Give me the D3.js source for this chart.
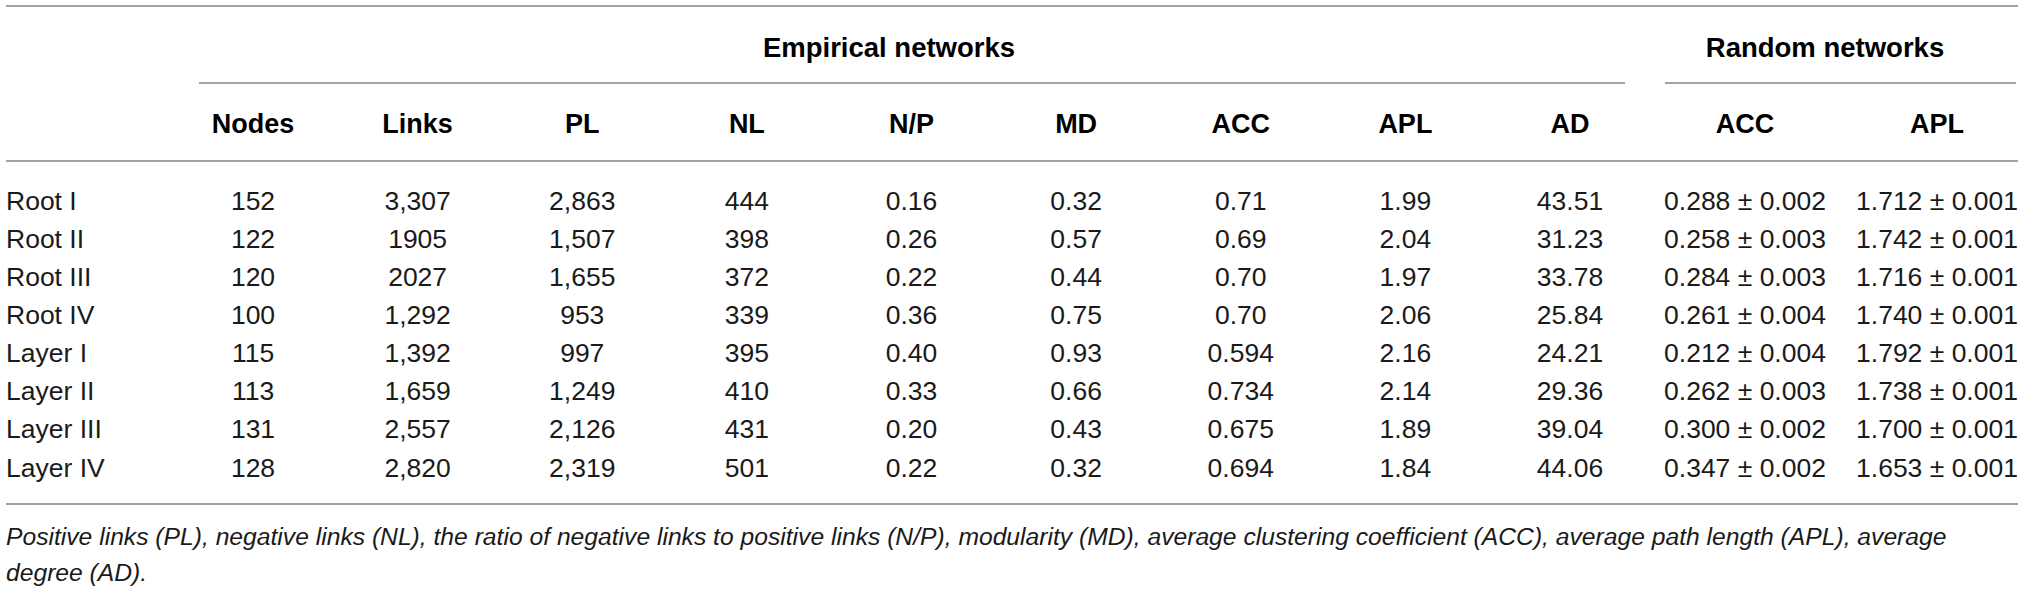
<!DOCTYPE html>
<html>
<head>
<meta charset="utf-8">
<script src="https://cdn.jsdelivr.net/npm/d3@7"></script>
<style>
  html, body { margin: 0; padding: 0; background: #fff; }
  svg { display: block; }
</style>
</head>
<body>
<script>
const width = 2032;
const height = 591;

// table content, as printed
const rowLabels = ["Root I", "Root II", "Root III", "Root IV", "Layer I", "Layer II", "Layer III", "Layer IV"];
const empiricalHeaders = ["Nodes", "Links", "PL", "NL", "N/P", "MD", "ACC", "APL", "AD"];
const randomHeaders = ["ACC", "APL"];

const nodes = ["152", "122", "120", "100", "115", "113", "131", "128"];
const links = ["3,307", "1905", "2027", "1,292", "1,392", "1,659", "2,557", "2,820"];
const pl = ["2,863", "1,507", "1,655", "953", "997", "1,249", "2,126", "2,319"];
const nl = ["444", "398", "372", "339", "395", "410", "431", "501"];
const np = ["0.16", "0.26", "0.22", "0.36", "0.40", "0.33", "0.20", "0.22"];
const md = ["0.32", "0.57", "0.44", "0.75", "0.93", "0.66", "0.43", "0.32"];
const acc = ["0.71", "0.69", "0.70", "0.70", "0.594", "0.734", "0.675", "0.694"];
const apl = ["1.99", "2.04", "1.97", "2.06", "2.16", "2.14", "1.89", "1.84"];
const ad = ["43.51", "31.23", "33.78", "25.84", "24.21", "29.36", "39.04", "44.06"];

const randAcc = ["0.288", "0.258", "0.284", "0.261", "0.212", "0.262", "0.300", "0.347"];
const randAccSd = ["0.002", "0.003", "0.003", "0.004", "0.004", "0.003", "0.002", "0.002"];
const randApl = ["1.712", "1.742", "1.716", "1.740", "1.792", "1.738", "1.700", "1.653"];
const randAplSd = ["0.001", "0.001", "0.001", "0.001", "0.001", "0.001", "0.001", "0.001"];

const footnote = [
  "Positive links (PL), negative links (NL), the ratio of negative links to positive links (N/P), modularity (MD), average clustering coefficient (ACC), average path length (APL), average",
  "degree (AD)."
];

const empiricalCols = [nodes, links, pl, nl, np, md, acc, apl, ad];
const randomCols = [
  randAcc.map((v, i) => `${v} ± ${randAccSd[i]}`),
  randApl.map((v, i) => `${v} ± ${randAplSd[i]}`)
];

const font = "'Liberation Sans', Arial, Helvetica, sans-serif";
const ruleColor = "#a3a3a3";
const left = 6, right = 2018;

const svg = d3.select("body").append("svg")
  .attr("width", width)
  .attr("height", height)
  .attr("viewBox", `0 0 ${width} ${height}`)
  .style("font-family", font);

const xEmp = d3.scalePoint().domain(empiricalHeaders.map((d, i) => i)).range([253, 1570]);
const xRand = d3.scalePoint().domain(randomHeaders.map((d, i) => i)).range([1745, 1937]);
const y = d3.scalePoint().domain(rowLabels).range([200, 467]);

// horizontal rules
const rules = [
  { x1: left, x2: right, y: 6 },
  { x1: 199, x2: 1625, y: 83 },
  { x1: 1665, x2: 2016, y: 83 },
  { x1: left, x2: right, y: 161 },
  { x1: left, x2: right, y: 504 }
];
svg.append("g").selectAll("line")
  .data(rules)
  .join("line")
  .attr("x1", d => d.x1).attr("x2", d => d.x2)
  .attr("y1", d => d.y).attr("y2", d => d.y)
  .attr("stroke", ruleColor)
  .attr("stroke-width", 2);

// group titles
svg.append("g")
  .selectAll("text")
  .data([{ t: "Empirical networks", x: 889 }, { t: "Random networks", x: 1825 }])
  .join("text")
  .attr("x", d => d.x)
  .attr("y", 47)
  .attr("dy", "0.36em")
  .attr("text-anchor", "middle")
  .attr("font-weight", "bold")
  .attr("font-size", 27.5)
  .attr("fill", "#000")
  .text(d => d.t);

// column headers
const head = svg.append("g")
  .attr("font-weight", "bold")
  .attr("font-size", 27)
  .attr("text-anchor", "middle")
  .attr("fill", "#000");
head.selectAll("text.emp")
  .data(empiricalHeaders)
  .join("text")
  .attr("class", "emp")
  .attr("x", (d, i) => xEmp(i))
  .attr("y", 123).attr("dy", "0.36em")
  .text(d => d);
head.selectAll("text.rand")
  .data(randomHeaders)
  .join("text")
  .attr("class", "rand")
  .attr("x", (d, i) => xRand(i))
  .attr("y", 123).attr("dy", "0.36em")
  .text(d => d);

// body
const bodyG = svg.append("g")
  .attr("font-size", 26.5)
  .attr("fill", "#1a1a1a");

bodyG.selectAll("text.label")
  .data(rowLabels)
  .join("text")
  .attr("class", "label")
  .attr("x", left)
  .attr("y", d => y(d)).attr("dy", "0.36em")
  .text(d => d);

empiricalCols.forEach((col, ci) => {
  bodyG.append("g")
    .attr("text-anchor", "middle")
    .selectAll("text")
    .data(col)
    .join("text")
    .attr("x", xEmp(ci))
    .attr("y", (d, i) => y(rowLabels[i])).attr("dy", "0.36em")
    .text(d => d);
});

randomCols.forEach((col, ci) => {
  bodyG.append("g")
    .attr("text-anchor", "middle")
    .selectAll("text")
    .data(col)
    .join("text")
    .attr("x", xRand(ci))
    .attr("y", (d, i) => y(rowLabels[i])).attr("dy", "0.36em")
    .text(d => d);
});

// footnote, fitted so the first line ends where the printed one does
const note = svg.append("g")
  .attr("font-style", "italic")
  .attr("fill", "#1a1a1a");
const noteText = note.selectAll("text")
  .data(footnote)
  .join("text")
  .attr("x", left)
  .attr("y", (d, i) => [536, 572][i]).attr("dy", "0.36em")
  .attr("font-size", 25)
  .text(d => d);
const w0 = noteText.nodes()[0].getComputedTextLength();
const fs = Math.min(26, 25 * (1948 - left) / w0);
noteText.attr("font-size", fs);
</script>
</body>
</html>
